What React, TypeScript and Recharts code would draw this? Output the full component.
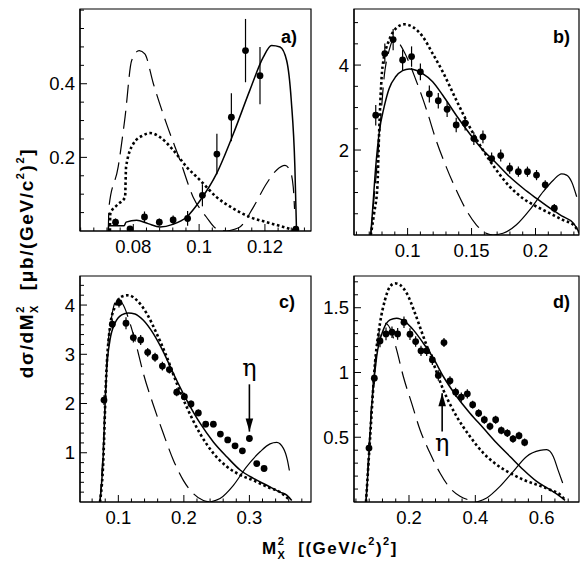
import React from 'react'
import {
  ComposedChart,
  ErrorBar,
  Line,
  ReferenceArea,
  ReferenceDot,
  ReferenceLine,
  Scatter,
  XAxis,
  YAxis,
} from 'recharts'

// ---- panel a) ----
const aPtsX = [0.0746, 0.079, 0.0834, 0.0879, 0.0921, 0.0965, 0.101, 0.1054, 0.1098, 0.1141, 0.1185, 0.1294]
const aPtsY = [0.024, 0.006, 0.038, 0.024, 0.03, 0.034, 0.097, 0.209, 0.309, 0.49, 0.422, 0.005]
const aPtsErr = [0.01, 0.007, 0.015, 0.01, 0.012, 0.02, 0.03, 0.055, 0.065, 0.086, 0.078, 0.004]
const aSolidX = [0.0724, 0.0725, 0.0772, 0.0778, 0.081, 0.0845, 0.0881, 0.092, 0.0962, 0.1003, 0.1053, 0.1104, 0.1154, 0.1195, 0.122, 0.1246, 0.1266, 0.128, 0.1291, 0.1296]
const aSolidY = [0, 0.014, 0.014, 0.024, 0.029, 0.02, 0.011, 0.018, 0.038, 0.083, 0.156, 0.264, 0.382, 0.472, 0.504, 0.5, 0.463, 0.355, 0.174, 0]
const aDashX = [0.0724, 0.0726, 0.0754, 0.0775, 0.0795, 0.0818, 0.0835, 0.0861, 0.0901, 0.0942, 0.0982, 0.1022, 0.1053, 0.1084]
const aDashY = [0, 0.065, 0.174, 0.31, 0.463, 0.49, 0.481, 0.4, 0.291, 0.192, 0.092, 0.038, 0.006, 0]
const aTailX = [0.1084, 0.1124, 0.1165, 0.1205, 0.1235, 0.1261, 0.1276, 0.1286, 0.129]
const aTailY = [0, 0.011, 0.065, 0.129, 0.165, 0.178, 0.165, 0.12, 0.06]
const aDotX = [0.0729, 0.073, 0.075, 0.0775, 0.0778, 0.08, 0.083, 0.0851, 0.0881, 0.0922, 0.0962, 0.1003, 0.1053, 0.1104, 0.1154, 0.1205, 0.1256, 0.129]
const aDotY = [0, 0.047, 0.07, 0.092, 0.174, 0.237, 0.26, 0.266, 0.255, 0.219, 0.174, 0.138, 0.092, 0.061, 0.038, 0.024, 0.011, 0.002]

// ---- panel b) ----
const bPtsX = [0.0751, 0.0822, 0.0887, 0.0961, 0.1031, 0.11, 0.117, 0.124, 0.1309, 0.138, 0.145, 0.1518, 0.1589, 0.1657, 0.1728, 0.1798, 0.1866, 0.1937, 0.2008, 0.2076, 0.2147]
const bPtsY = [2.82, 4.27, 4.6, 4.12, 4.2, 3.84, 3.32, 3.16, 2.96, 2.59, 2.63, 2.27, 2.31, 1.8, 1.87, 1.57, 1.49, 1.49, 1.41, 1.18, 0.63]
const bPtsErr = [0.24, 0.24, 0.25, 0.24, 0.24, 0.2, 0.2, 0.18, 0.18, 0.17, 0.17, 0.15, 0.15, 0.14, 0.14, 0.13, 0.12, 0.12, 0.12, 0.11, 0.1]
const bSolidX = [0.0712, 0.0725, 0.0751, 0.0777, 0.0817, 0.0856, 0.0908, 0.0961, 0.1013, 0.1065, 0.1118, 0.1196, 0.1275, 0.138, 0.1484, 0.1589, 0.1694, 0.1798, 0.1903, 0.2008, 0.2113, 0.2217, 0.2296, 0.2348]
const bSolidY = [0, 0.53, 1.61, 2.39, 3.02, 3.45, 3.73, 3.87, 3.91, 3.88, 3.8, 3.61, 3.29, 2.82, 2.39, 2.0, 1.69, 1.37, 1.1, 0.86, 0.63, 0.43, 0.28, 0.02]
const bDashX = [0.0712, 0.0725, 0.0764, 0.0791, 0.0817, 0.0856, 0.0895, 0.0935, 0.0974, 0.1065, 0.1149, 0.1222, 0.1301, 0.138, 0.1458, 0.1537, 0.1615, 0.1668]
const bDashY = [0, 0.45, 1.76, 2.78, 3.73, 4.35, 4.63, 4.51, 4.31, 3.65, 2.94, 2.24, 1.61, 1.06, 0.59, 0.24, 0.04, 0]
const bTailX = [0.1668, 0.1746, 0.1851, 0.1955, 0.206, 0.2139, 0.2204, 0.2243, 0.2283, 0.2322]
const bTailY = [0, 0.04, 0.24, 0.59, 1.02, 1.29, 1.44, 1.41, 1.25, 0.9]
const bDotX = [0.0712, 0.0738, 0.0764, 0.0775, 0.0804, 0.0856, 0.0908, 0.0974, 0.1039, 0.1118, 0.1196, 0.1275, 0.138, 0.1484, 0.1589, 0.1694, 0.1798, 0.1903, 0.2008, 0.2113, 0.2217, 0.2296, 0.2348]
const bDotY = [0, 0.51, 1.14, 2.2, 3.96, 4.59, 4.86, 4.96, 4.9, 4.67, 4.27, 3.84, 3.18, 2.55, 2.0, 1.53, 1.14, 0.86, 0.67, 0.51, 0.35, 0.24, 0.04]

// ---- panel c) ----
const cPtsX = [0.0781, 0.0908, 0.101, 0.1117, 0.1229, 0.1341, 0.1448, 0.156, 0.1672, 0.1779, 0.1891, 0.2008, 0.2109, 0.2221, 0.2333, 0.245, 0.2557, 0.2669, 0.2781, 0.2893, 0.3, 0.3112, 0.3224]
const cPtsY = [2.07, 3.61, 4.05, 3.63, 3.34, 3.29, 3.04, 2.94, 2.76, 2.69, 2.23, 2.14, 1.99, 1.81, 1.58, 1.58, 1.38, 1.26, 1.14, 1.04, 1.29, 0.78, 0.68]
const cPtsErr = [0.1, 0.1, 0.1, 0.12, 0.1, 0.1, 0.09, 0.09, 0.09, 0.08, 0.08, 0.08, 0.07, 0.07, 0.06, 0.06, 0.06, 0.06, 0.05, 0.05, 0.06, 0.05, 0.05]
const cSolidX = [0.072, 0.0771, 0.0796, 0.0822, 0.0873, 0.0949, 0.1051, 0.1153, 0.1254, 0.1382, 0.1534, 0.1687, 0.184, 0.2043, 0.2247, 0.245, 0.2654, 0.2858, 0.3061, 0.3265, 0.3468, 0.357, 0.3646]
const cSolidY = [0, 0.99, 1.93, 2.68, 3.29, 3.63, 3.8, 3.84, 3.82, 3.69, 3.42, 3.05, 2.61, 2.07, 1.6, 1.22, 0.92, 0.65, 0.48, 0.34, 0.2, 0.14, 0.03]
const cDashX = [0.072, 0.0771, 0.0822, 0.0898, 0.0985, 0.1076, 0.1178, 0.128, 0.1382, 0.1534, 0.1687, 0.184, 0.1992, 0.2145, 0.2298, 0.2399]
const cDashY = [0, 1.12, 2.81, 3.76, 4.12, 4.0, 3.63, 3.15, 2.61, 1.97, 1.39, 0.85, 0.44, 0.17, 0.03, 0]
const cTailX = [0.2399, 0.2552, 0.2756, 0.2959, 0.3163, 0.3315, 0.3417, 0.3519, 0.358, 0.361]
const cTailY = [0, 0.07, 0.34, 0.72, 1.02, 1.18, 1.21, 1.09, 0.85, 0.64]
const cDotX = [0.072, 0.0771, 0.0812, 0.0873, 0.0949, 0.1051, 0.1153, 0.128, 0.1433, 0.1585, 0.1738, 0.1891, 0.2043, 0.2247, 0.245, 0.2654, 0.2858, 0.3061, 0.3265, 0.3468, 0.3621]
const cDotY = [0, 0.85, 2.47, 3.56, 3.97, 4.17, 4.2, 4.1, 3.83, 3.42, 2.95, 2.41, 1.93, 1.39, 0.99, 0.72, 0.55, 0.44, 0.31, 0.2, 0.03]

// ---- panel d) ----
const dPtsX = [0.0794, 0.0955, 0.1126, 0.1307, 0.1487, 0.1658, 0.1849, 0.203, 0.2201, 0.2362, 0.2533, 0.2704, 0.2884, 0.3055, 0.3236, 0.3407, 0.3578, 0.3759, 0.392, 0.41, 0.4271, 0.4442, 0.4613, 0.4784, 0.4965, 0.5136, 0.5317, 0.5487]
const dPtsY = [0.416, 0.956, 1.244, 1.298, 1.311, 1.298, 1.388, 1.296, 1.239, 1.167, 1.167, 1.098, 0.977, 1.231, 0.936, 0.848, 0.81, 0.835, 0.751, 0.686, 0.635, 0.584, 0.635, 0.553, 0.532, 0.488, 0.512, 0.46]
const dPtsErr = [0.04, 0.05, 0.05, 0.05, 0.045, 0.045, 0.045, 0.045, 0.04, 0.04, 0.04, 0.04, 0.04, 0.035, 0.035, 0.035, 0.035, 0.035, 0.03, 0.03, 0.03, 0.03, 0.03, 0.03, 0.03, 0.03, 0.03, 0.03]
const dSolidX = [0.0704, 0.0774, 0.0874, 0.1025, 0.1226, 0.1427, 0.1628, 0.1879, 0.2131, 0.2432, 0.2734, 0.3035, 0.3437, 0.3839, 0.4241, 0.4643, 0.5045, 0.5447, 0.5849, 0.6251, 0.6553, 0.6704]
const dSolidY = [0, 0.275, 0.738, 1.123, 1.329, 1.406, 1.419, 1.393, 1.329, 1.226, 1.111, 0.969, 0.815, 0.686, 0.571, 0.455, 0.352, 0.249, 0.159, 0.095, 0.044, 0.013]
const dDashX = [0.0704, 0.0824, 0.0975, 0.1176, 0.1276, 0.1427, 0.1628, 0.1829, 0.208, 0.2332, 0.2633, 0.2935, 0.3236, 0.3538, 0.3839, 0.404]
const dDashY = [0, 0.558, 1.072, 1.368, 1.38, 1.342, 1.175, 0.969, 0.763, 0.558, 0.378, 0.224, 0.108, 0.044, 0.013, 0]
const dTailX = [0.404, 0.4342, 0.4744, 0.5146, 0.5548, 0.595, 0.615, 0.635, 0.6503, 0.6633]
const dTailY = [0, 0.031, 0.121, 0.237, 0.352, 0.398, 0.404, 0.352, 0.24, 0.147]
const dDotX = [0.0704, 0.0824, 0.0975, 0.1126, 0.1276, 0.1427, 0.1578, 0.1729, 0.193, 0.2181, 0.2432, 0.2734, 0.3035, 0.3437, 0.3839, 0.4241, 0.4643, 0.5045, 0.5447, 0.5849, 0.6251, 0.6553, 0.6704]
const dDotY = [0, 0.48, 1.072, 1.38, 1.56, 1.663, 1.689, 1.676, 1.612, 1.458, 1.278, 1.072, 0.866, 0.661, 0.506, 0.378, 0.288, 0.224, 0.172, 0.134, 0.095, 0.057, 0.018]

// eta markers (x, arrow tail y, arrow tip y, label y)
const etaC = [0.3, 2.39, 1.43, 2.68]
const etaD = [0.3, 0.545, 0.84, 0.44]

// axis ticks
const aXMajor = [0.08, 0.1, 0.12]
const aXLabels = ['0.08', '0.1', '0.12']
const aYMajor = [0.2, 0.4]
const aYLabels = ['0.2', '0.4']
const bXMajor = [0.1, 0.15, 0.2]
const bXLabels = ['0.1', '0.15', '0.2']
const bYMajor = [2, 4]
const bYLabels = ['2', '4']
const cXMajor = [0.1, 0.2, 0.3]
const cXLabels = ['0.1', '0.2', '0.3']
const cYMajor = [1, 2, 3, 4]
const cYLabels = ['1', '2', '3', '4']
const dXMajor = [0.2, 0.4, 0.6]
const dXLabels = ['0.2', '0.4', '0.6']
const dYMajor = [0.5, 1, 1.5]
const dYLabels = ['0.5', '1', '1.5']

const FONT = '"Liberation Sans", Arial, Helvetica, sans-serif'

type Pt = { x: number; y: number; err?: number }

const zip = (xs: number[], ys: number[], es?: number[]): Pt[] =>
  xs.map((x, i) => (es ? { x, y: ys[i], err: es[i] } : { x, y: ys[i] }))

// minor tick positions between the domain ends
const steps = (lo: number, hi: number, step: number): number[] => {
  const out: number[] = []
  for (let k = Math.ceil(lo / step - 1e-6); k * step <= hi + 1e-9; k++) out.push(+(k * step).toFixed(6))
  return out
}

function makeXTick(majors: number[], labels: string[]) {
  return (props: any) => {
    const { x, y, payload } = props
    const idx = majors.findIndex((m) => Math.abs(m - payload.value) < 1e-6)
    const big = idx >= 0
    return (
      <g>
        <line x1={x} x2={x} y1={y} y2={y - (big ? 7 : 3.5)} stroke="#000" strokeWidth={1} />
        {big && (
          <text x={x} y={y + 22} textAnchor="middle" fontSize={18.5} fontFamily={FONT} fill="#000">
            {labels[idx]}
          </text>
        )}
      </g>
    )
  }
}

function makeYTick(majors: number[], labels: string[]) {
  return (props: any) => {
    const { x, y, payload } = props
    const idx = majors.findIndex((m) => Math.abs(m - payload.value) < 1e-6)
    const big = idx >= 0
    return (
      <g>
        <line x1={x} x2={x + (big ? 7 : 4)} y1={y} y2={y} stroke="#000" strokeWidth={1} />
        {big && (
          <text x={x - 5} y={y + 6.5} textAnchor="end" fontSize={18.5} fontFamily={FONT} fill="#000">
            {labels[idx]}
          </text>
        )}
      </g>
    )
  }
}

const dotShape = (props: any) => <circle cx={props.cx} cy={props.cy} r={3.4} fill="#000" />

type PanelProps = {
  left: number
  top: number
  plotW: number
  plotH: number
  xDomain: [number, number]
  yDomain: [number, number]
  xMajor: number[]
  xLabels: string[]
  xMinorStep: number
  yMajor: number[]
  yLabels: string[]
  yMinorStep: number
  points: Pt[]
  solid: Pt[]
  dashed: Pt[]
  tail: Pt[]
  tailDashed: boolean
  dotted: Pt[]
  eta?: number[]
  etaUp?: boolean
}

function Panel(p: PanelProps) {
  const xTicks = steps(p.xDomain[0], p.xDomain[1], p.xMinorStep)
  const yTicks = steps(p.yDomain[0] + p.yMinorStep * 0.5, p.yDomain[1], p.yMinorStep)
  const tipShape = (props: any) => {
    const { cx, cy } = props
    const d = p.etaUp ? -1 : 1
    return <path d={`M${cx},${cy} L${cx - 3.8},${cy - d * 13} L${cx + 3.8},${cy - d * 13} Z`} fill="#000" />
  }
  const etaShape = (props: any) => (
    <text x={props.cx} y={props.cy + 6} textAnchor="middle" fontSize={24} fontFamily='"DejaVu Serif", "Liberation Serif", serif' fill="#000">
      η
    </text>
  )
  return (
    <div style={{ position: 'absolute', left: p.left - 80, top: p.top - 9 }}>
      <ComposedChart width={80 + p.plotW + 4} height={9 + p.plotH + 30} margin={{ top: 9, right: 4, bottom: 0, left: 0 }}>
        <XAxis
          type="number"
          dataKey="x"
          domain={p.xDomain}
          allowDataOverflow
          ticks={xTicks}
          interval={0}
          tickSize={0}
          tickMargin={0}
          tickLine={false}
          tick={makeXTick(p.xMajor, p.xLabels)}
          axisLine={{ stroke: '#000', strokeWidth: 1.2 }}
          height={30}
        />
        <YAxis
          type="number"
          dataKey="y"
          domain={p.yDomain}
          allowDataOverflow
          ticks={yTicks}
          interval={0}
          tickSize={0}
          tickMargin={0}
          tickLine={false}
          tick={makeYTick(p.yMajor, p.yLabels)}
          axisLine={{ stroke: '#000', strokeWidth: 1.2 }}
          width={80}
        />
        <ReferenceArea
          x1={p.xDomain[0]}
          x2={p.xDomain[1]}
          y1={p.yDomain[0]}
          y2={p.yDomain[1]}
          fill="none"
          fillOpacity={0}
          stroke="#000"
          strokeWidth={1.2}
          ifOverflow="visible"
        />
        <Line data={p.dotted} dataKey="y" type="monotone" stroke="#000" strokeWidth={2.6} strokeDasharray="2.6 2.6" dot={false} activeDot={false} isAnimationActive={false} />
        <Line data={p.dashed} dataKey="y" type="monotone" stroke="#000" strokeWidth={1.2} strokeDasharray="18 8" dot={false} activeDot={false} isAnimationActive={false} />
        <Line
          data={p.tail}
          dataKey="y"
          type="monotone"
          stroke="#000"
          strokeWidth={1.2}
          strokeDasharray={p.tailDashed ? '18 8' : undefined}
          dot={false}
          activeDot={false}
          isAnimationActive={false}
        />
        <Line data={p.solid} dataKey="y" type="monotone" stroke="#000" strokeWidth={1.5} dot={false} activeDot={false} isAnimationActive={false} />
        <Scatter data={p.points} dataKey="y" shape={dotShape} isAnimationActive={false}>
          <ErrorBar dataKey="err" direction="y" width={0} stroke="#000" strokeWidth={1.2} />
        </Scatter>
        {p.eta && (
          <ReferenceLine
            segment={[
              { x: p.eta[0], y: p.eta[1] },
              { x: p.eta[0], y: p.eta[2] },
            ]}
            stroke="#000"
            strokeWidth={1.6}
          />
        )}
        {p.eta && <ReferenceDot x={p.eta[0]} y={p.eta[2]} shape={tipShape} />}
        {p.eta && <ReferenceDot x={p.eta[0]} y={p.eta[3]} shape={etaShape} />}
      </ComposedChart>
    </div>
  )
}

const sub = { fontSize: 11 }

function App() {
  return (
    <div style={{ position: 'absolute', left: 0, top: 0, width: 581, height: 570, background: '#fff', overflow: 'hidden' }}>
      <Panel
        left={80}
        top={9}
        plotW={231}
        plotH={222}
        xDomain={[0.0638, 0.134]}
        yDomain={[0, 0.603]}
        xMajor={aXMajor}
        xLabels={aXLabels}
        xMinorStep={0.004}
        yMajor={aYMajor}
        yLabels={aYLabels}
        yMinorStep={0.05}
        points={zip(aPtsX, aPtsY, aPtsErr)}
        solid={zip(aSolidX, aSolidY)}
        dashed={zip(aDashX, aDashY)}
        tail={zip(aTailX, aTailY)}
        tailDashed
        dotted={zip(aDotX, aDotY)}
      />
      <Panel
        left={354}
        top={9}
        plotW={225}
        plotH={226}
        xDomain={[0.0581, 0.234]}
        yDomain={[0, 5.32]}
        xMajor={bXMajor}
        xLabels={bXLabels}
        xMinorStep={0.01}
        yMajor={bYMajor}
        yLabels={bYLabels}
        yMinorStep={0.5}
        points={zip(bPtsX, bPtsY, bPtsErr)}
        solid={zip(bSolidX, bSolidY)}
        dashed={zip(bDashX, bDashY)}
        tail={zip(bTailX, bTailY)}
        tailDashed={false}
        dotted={zip(bDotX, bDotY)}
      />
      <Panel
        left={80}
        top={276}
        plotW={231}
        plotH={226}
        xDomain={[0.0415, 0.394]}
        yDomain={[0, 4.59]}
        xMajor={cXMajor}
        xLabels={cXLabels}
        xMinorStep={0.02}
        yMajor={cYMajor}
        yLabels={cYLabels}
        yMinorStep={0.2}
        points={zip(cPtsX, cPtsY, cPtsErr)}
        solid={zip(cSolidX, cSolidY)}
        dashed={zip(cDashX, cDashY)}
        tail={zip(cTailX, cTailY)}
        tailDashed={false}
        dotted={zip(cDotX, cDotY)}
        eta={etaC}
      />
      <Panel
        left={354}
        top={276}
        plotW={225}
        plotH={226}
        xDomain={[0.0342, 0.7126]}
        yDomain={[0, 1.745]}
        xMajor={dXMajor}
        xLabels={dXLabels}
        xMinorStep={0.04}
        yMajor={dYMajor}
        yLabels={dYLabels}
        yMinorStep={0.1}
        points={zip(dPtsX, dPtsY, dPtsErr)}
        solid={zip(dSolidX, dSolidY)}
        dashed={zip(dDashX, dDashY)}
        tail={zip(dTailX, dTailY)}
        tailDashed={false}
        dotted={zip(dDotX, dDotY)}
        eta={etaD}
        etaUp
      />
      <svg width={581} height={570} style={{ position: 'absolute', left: 0, top: 0, pointerEvents: 'none' }}>
        <g fontFamily={FONT} fontWeight="bold" fontSize={18} fill="#000">
          <text x={297} y={43} textAnchor="end">a)</text>
          <text x={570} y={43} textAnchor="end">b)</text>
          <text x={295} y={308} textAnchor="end">c)</text>
          <text x={570} y={308} textAnchor="end">d)</text>
        </g>
        <text
          transform="translate(33,263) rotate(-90)"
          textAnchor="middle"
          fontFamily={FONT}
          fontWeight="bold"
          fontSize={19}
          letterSpacing={1.6}
          fill="#000"
        >
          <tspan>dσ/dM</tspan>
          <tspan dy={-9} style={sub}>2</tspan>
          <tspan dx={-8} dy={14} style={sub}>X</tspan>
          <tspan dx={14} dy={-5}>[μb/(GeV/c</tspan>
          <tspan dy={-9} style={sub}>2</tspan>
          <tspan dy={9}>)</tspan>
          <tspan dy={-9} style={sub}>2</tspan>
          <tspan dy={9}>]</tspan>
        </text>
        <text
          x={330}
          y={554}
          textAnchor="middle"
          fontFamily={FONT}
          fontWeight="bold"
          fontSize={17}
          letterSpacing={1.5}
          fill="#000"
        >
          <tspan>M</tspan>
          <tspan dy={-9} style={sub}>2</tspan>
          <tspan dx={-8} dy={14} style={sub}>X</tspan>
          <tspan dx={12} dy={-5}>[(GeV/c</tspan>
          <tspan dy={-9} style={sub}>2</tspan>
          <tspan dy={9}>)</tspan>
          <tspan dy={-9} style={sub}>2</tspan>
          <tspan dy={9}>]</tspan>
        </text>
      </svg>
    </div>
  )
}

export default App
